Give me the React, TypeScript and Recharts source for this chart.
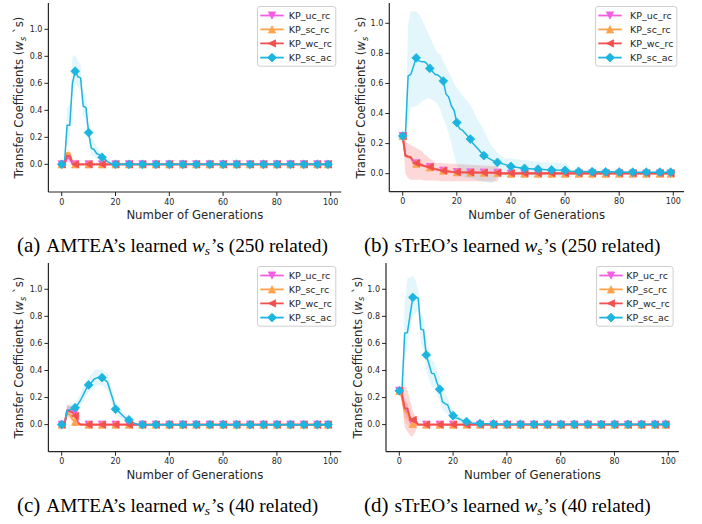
import React from 'react';
import { ComposedChart, Line, Area, XAxis, YAxis, Legend } from 'recharts';

type Pt = [number, number, number, number]; // [generation, mean, low, high]

const X_TICKS = [0, 20, 40, 60, 80, 100];
const Y_TICKS = [0, 0.2, 0.4, 0.6, 0.8, 1.0];
const SERIES_NAMES = ['KP_uc_rc', 'KP_sc_rc', 'KP_wc_rc', 'KP_sc_ac'];
const SERIES_COLORS = ['#f25fe3', '#ffa24c', '#f24f4f', '#1cb5df'];
const SERIES_SHAPES = ['down', 'up', 'left', 'diamond'];
const CAPTIONS = [
  ['(a)', 'AMTEA’s learned ', '’s (250 related)'],
  ['(b)', 'sTrEO’s learned ', '’s (250 related)'],
  ['(c)', 'AMTEA’s learned ', '’s (40 related)'],
  ['(d)', 'sTrEO’s learned ', '’s (40 related)'],
];

const ZERO_TAIL: Pt[] = [
  [30, 0, 0, 0], [35, 0, 0, 0], [40, 0, 0, 0], [45, 0, 0, 0], [50, 0, 0, 0], [55, 0, 0, 0],
  [60, 0, 0, 0], [65, 0, 0, 0], [70, 0, 0, 0], [75, 0, 0, 0], [80, 0, 0, 0], [85, 0, 0, 0],
  [90, 0, 0, 0], [95, 0, 0, 0], [99, 0, 0, 0],
];

// ---------- (a) AMTEA 250 related ----------
const A_UC: Pt[] = [[0, 0, 0, 0], [1, 0, 0, 0], [2, 0.05, 0.02, 0.09], [3, 0.04, 0.01, 0.07], [4, 0.005, 0, 0.01], [5, 0, 0, 0], [10, 0, 0, 0], [15, 0, 0, 0], [20, 0, 0, 0], [25, 0, 0, 0], ...ZERO_TAIL];
const A_SC: Pt[] = [[0, 0, 0, 0], [1, 0, 0, 0], [2, 0.085, 0.05, 0.115], [3, 0.08, 0.05, 0.105], [4, 0.015, 0, 0.03], [5, 0, 0, 0], [10, 0, 0, 0], [15, 0, 0, 0], [20, 0, 0, 0], [25, 0, 0, 0], ...ZERO_TAIL];
const A_WC: Pt[] = [[0, 0, 0, 0], [1, 0, 0, 0], [2, 0.065, 0.035, 0.09], [3, 0.06, 0.03, 0.085], [4, 0.01, 0, 0.02], [5, 0, 0, 0], [10, 0, 0, 0], [15, 0, 0, 0], [20, 0, 0, 0], [25, 0, 0, 0], ...ZERO_TAIL];
const A_AC: Pt[] = [
  [0, 0, 0, 0], [1, 0, 0, 0], [2, 0.29, 0.2, 0.42], [3, 0.29, 0.21, 0.45], [4, 0.6, 0.55, 0.8], [5, 0.69, 0.6, 0.81],
  [6, 0.65, 0.58, 0.77], [7, 0.64, 0.55, 0.74], [8, 0.43, 0.36, 0.53], [9, 0.42, 0.33, 0.5], [10, 0.235, 0.17, 0.3],
  [11, 0.12, 0.07, 0.2], [12, 0.11, 0.06, 0.17], [13, 0.08, 0.05, 0.13], [14, 0.07, 0.04, 0.1], [15, 0.052, 0.03, 0.08],
  [16, 0.04, 0.02, 0.06], [17, 0.02, 0.01, 0.04], [18, 0.01, 0, 0.02], [19, 0.003, 0, 0.006], [20, 0, 0, 0], [25, 0, 0, 0],
  ...ZERO_TAIL,
];

// ---------- (b) sTrEO 250 related ----------
const B_UC: Pt[] = [
  [0, 0.25, 0.25, 0.25], [1, 0.12, 0.12, 0.12], [2, 0.11, 0.11, 0.11], [3, 0.105, 0.105, 0.105], [4, 0.075, 0.075, 0.075],
  [5, 0.068, 0.068, 0.068], [7, 0.055, 0.055, 0.055], [10, 0.043, 0.043, 0.043], [12, 0.03, 0.03, 0.03], [15, 0.02, 0.02, 0.02],
  [18, 0.012, 0.012, 0.012], [20, 0.01, 0.01, 0.01], [25, 0.008, 0.008, 0.008], [30, 0.007, 0.007, 0.007], [35, 0.006, 0.006, 0.006],
  [37, 0, 0, 0], ...ZERO_TAIL.slice(2),
];
const B_SC: Pt[] = [
  [0, 0.25, 0.25, 0.25], [1, 0.12, 0.12, 0.12], [2, 0.11, 0.11, 0.11], [3, 0.105, 0.105, 0.105], [4, 0.075, 0.075, 0.075],
  [5, 0.066, 0.066, 0.066], [7, 0.054, 0.054, 0.054], [10, 0.042, 0.042, 0.042], [12, 0.03, 0.03, 0.03], [15, 0.02, 0.02, 0.02],
  [18, 0.011, 0.011, 0.011], [20, 0.009, 0.009, 0.009], [25, 0.007, 0.007, 0.007], [30, 0.006, 0.006, 0.006], [35, 0.005, 0.005, 0.005],
  [37, 0, 0, 0], ...ZERO_TAIL.slice(2),
];
const B_WC: Pt[] = [
  [0, 0.25, 0.25, 0.25], [1, 0.12, 0.0, 0.22], [2, 0.115, -0.03, 0.2], [3, 0.11, -0.04, 0.19], [4, 0.08, -0.04, 0.18],
  [5, 0.07, -0.04, 0.17], [7, 0.06, -0.04, 0.15], [8, 0.05, -0.045, 0.13], [10, 0.045, -0.045, 0.1], [12, 0.03, -0.045, 0.075],
  [15, 0.02, -0.05, 0.07], [18, 0.012, -0.05, 0.066], [20, 0.01, -0.05, 0.064], [25, 0.008, -0.05, 0.06], [30, 0.007, -0.052, 0.055],
  [35, 0.006, -0.052, 0.05], [36, 0.003, 0, 0.006], [40, 0.003, 0, 0.006], [45, 0.003, 0, 0.006], [50, 0.003, 0, 0.006],
  [55, 0.003, 0, 0.006], [60, 0.003, 0, 0.006], [65, 0.003, 0, 0.006], [70, 0.003, 0, 0.006], [75, 0.003, 0, 0.006],
  [80, 0.003, 0, 0.006], [85, 0.003, 0, 0.006], [90, 0.003, 0, 0.006], [95, 0.003, 0, 0.006], [99, 0.003, 0, 0.006],
];
const B_AC: Pt[] = [
  [0, 0.25, 0.25, 0.25], [1, 0.25, 0.25, 0.3], [2, 0.65, 0.35, 0.99], [3, 0.66, 0.44, 1.08], [5, 0.77, 0.45, 1.08],
  [6, 0.75, 0.46, 1.06], [7, 0.745, 0.48, 1.03], [8, 0.745, 0.49, 0.99], [9, 0.73, 0.5, 0.95], [10, 0.7, 0.5, 0.91],
  [12, 0.66, 0.48, 0.83], [13, 0.656, 0.46, 0.8], [14, 0.64, 0.42, 0.79], [15, 0.616, 0.37, 0.75], [16, 0.53, 0.32, 0.71],
  [17, 0.51, 0.27, 0.68], [18, 0.45, 0.2, 0.64], [19, 0.42, 0.12, 0.6], [20, 0.34, 0.06, 0.57], [21, 0.3, 0.0, 0.55],
  [22, 0.29, -0.02, 0.52], [23, 0.27, -0.03, 0.5], [25, 0.23, -0.03, 0.46], [26, 0.2, -0.035, 0.42], [27, 0.18, -0.04, 0.38],
  [28, 0.16, -0.045, 0.35], [29, 0.14, -0.05, 0.32], [30, 0.12, -0.05, 0.29], [31, 0.11, -0.055, 0.25], [32, 0.1, -0.06, 0.21],
  [33, 0.09, -0.06, 0.18], [34, 0.08, -0.05, 0.16], [35, 0.075, -0.02, 0.14], [36, 0.07, -0.02, 0.12], [38, 0.06, -0.02, 0.1],
  [40, 0.048, -0.02, 0.1], [45, 0.035, -0.025, 0.09], [50, 0.03, -0.025, 0.08], [55, 0.025, -0.025, 0.075], [60, 0.022, -0.025, 0.07],
  [61, 0.02, -0.02, 0.065], [62, 0.016, 0.006, 0.026], [65, 0.015, 0.006, 0.024], [70, 0.013, 0.005, 0.021], [75, 0.012, 0.005, 0.02],
  [80, 0.011, 0.004, 0.018], [85, 0.01, 0.004, 0.016], [90, 0.01, 0.004, 0.016], [95, 0.01, 0.004, 0.016], [99, 0.01, 0.004, 0.016],
];

// ---------- (c) AMTEA 40 related ----------
const C_UC: Pt[] = [[0, 0, 0, 0], [1, 0, 0, 0], [2, 0.1, 0.06, 0.15], [3, 0.1, 0.06, 0.14], [4, 0.098, 0.06, 0.14], [5, 0.095, 0.06, 0.13], [6, 0.02, 0, 0.04], [7, 0, 0, 0], [10, 0, 0, 0], [15, 0, 0, 0], [20, 0, 0, 0], [25, 0, 0, 0], ...ZERO_TAIL];
const C_SC: Pt[] = [[0, 0, 0, 0], [1, 0, 0, 0], [2, 0.085, 0.05, 0.12], [3, 0.075, 0.04, 0.1], [4, 0.04, 0.02, 0.07], [5, 0.02, 0, 0.04], [6, 0.005, 0, 0.01], [7, 0, 0, 0], [10, 0, 0, 0], [15, 0, 0, 0], [20, 0, 0, 0], [25, 0, 0, 0], ...ZERO_TAIL];
const C_WC: Pt[] = [[0, 0, 0, 0], [1, 0, 0, 0], [2, 0.105, 0.07, 0.14], [3, 0.1, 0.07, 0.135], [4, 0.09, 0.05, 0.13], [5, 0.065, 0.03, 0.1], [6, 0.01, 0, 0.03], [7, 0, 0, 0], [10, 0, 0, 0], [15, 0, 0, 0], [20, 0, 0, 0], [25, 0, 0, 0], ...ZERO_TAIL];
const C_AC: Pt[] = [
  [0, 0, 0, 0], [1, 0, 0, 0], [2, 0.105, 0.07, 0.14], [3, 0.11, 0.07, 0.15], [4, 0.115, 0.08, 0.155], [5, 0.125, 0.09, 0.16],
  [6, 0.15, 0.11, 0.19], [7, 0.18, 0.14, 0.23], [8, 0.22, 0.17, 0.28], [9, 0.26, 0.21, 0.32], [10, 0.293, 0.24, 0.35],
  [11, 0.31, 0.26, 0.37], [12, 0.335, 0.28, 0.4], [13, 0.345, 0.29, 0.41], [14, 0.35, 0.29, 0.41], [15, 0.347, 0.29, 0.405],
  [16, 0.33, 0.27, 0.39], [17, 0.315, 0.255, 0.375], [18, 0.25, 0.19, 0.31], [19, 0.19, 0.13, 0.25], [20, 0.114, 0.07, 0.16],
  [21, 0.1, 0.06, 0.14], [22, 0.08, 0.045, 0.115], [23, 0.06, 0.03, 0.09], [24, 0.045, 0.02, 0.07], [25, 0.035, 0.012, 0.06],
  [26, 0.02, 0.005, 0.035], [27, 0.01, 0, 0.02], [28, 0.003, 0, 0.006], ...ZERO_TAIL,
];

// ---------- (d) sTrEO 40 related ----------
const D_UC: Pt[] = [[0, 0.25, 0.25, 0.25], [1, 0.22, 0.18, 0.26], [2, 0.11, 0.05, 0.17], [3, 0.1, 0.04, 0.16], [4, 0.04, 0.0, 0.08], [5, 0.01, 0, 0.03], [6, 0, 0, 0], [10, 0, 0, 0], [15, 0, 0, 0], [20, 0, 0, 0], [25, 0, 0, 0], ...ZERO_TAIL];
const D_SC: Pt[] = [[0, 0.25, 0.25, 0.25], [1, 0.2, 0.15, 0.25], [2, 0.1, 0.02, 0.18], [3, 0.08, 0.0, 0.16], [4, 0.03, -0.02, 0.08], [5, 0.005, -0.01, 0.02], [6, 0, 0, 0], [10, 0, 0, 0], [15, 0, 0, 0], [20, 0, 0, 0], [25, 0, 0, 0], ...ZERO_TAIL];
const D_WC: Pt[] = [[0, 0.25, 0.25, 0.25], [1, 0.22, 0.18, 0.25], [2, 0.12, -0.02, 0.29], [3, 0.12, -0.05, 0.26], [4, 0.047, -0.08, 0.18], [5, 0.035, -0.09, 0.1], [6, 0.03, -0.05, 0.06], [7, 0, 0, 0], [10, 0, 0, 0], [15, 0, 0, 0], [20, 0, 0, 0], [25, 0, 0, 0], ...ZERO_TAIL];
const D_AC: Pt[] = [
  [0, 0.25, 0.25, 0.25], [1, 0.25, 0.25, 0.3], [2, 0.675, 0.45, 0.9], [3, 0.68, 0.6, 1.08], [5, 0.94, 0.8, 1.1],
  [6, 0.94, 0.82, 1.07], [7, 0.935, 0.85, 1.0], [8, 0.705, 0.6, 0.82], [9, 0.7, 0.56, 0.78], [10, 0.515, 0.4, 0.63],
  [11, 0.45, 0.34, 0.56], [12, 0.38, 0.28, 0.48], [13, 0.375, 0.27, 0.46], [14, 0.31, 0.22, 0.4], [15, 0.261, 0.18, 0.35],
  [16, 0.17, 0.11, 0.26], [17, 0.155, 0.09, 0.23], [18, 0.145, 0.08, 0.2], [19, 0.09, 0.04, 0.14], [20, 0.066, 0.03, 0.1],
  [21, 0.05, 0.02, 0.08], [22, 0.045, 0.015, 0.07], [23, 0.035, 0.01, 0.055], [25, 0.022, 0.005, 0.04], [27, 0.012, 0.002, 0.025],
  [30, 0.008, 0.002, 0.015], [35, 0.005, 0.001, 0.01], [40, 0.003, 0, 0.006], [45, 0.002, 0, 0.005], [50, 0.002, 0, 0.005],
  [55, 0.002, 0, 0.005], [60, 0.002, 0, 0.005], [65, 0.002, 0, 0.005], [70, 0.002, 0, 0.005], [75, 0.002, 0, 0.005],
  [80, 0.002, 0, 0.005], [85, 0.002, 0, 0.005], [90, 0.002, 0, 0.005], [95, 0.002, 0, 0.005], [99, 0.002, 0, 0.005],
];

const BAND_OPACITY = [0.2, 0.2, 0.22, 0.12];
const TEXT = '#262626';
const SANS = 'DejaVu Sans, sans-serif';
const SERIF = 'Liberation Serif, Times New Roman, serif';

function markerShape(shape: string, cx: number, cy: number, color: string, key?: string) {
  const s = 3.6;
  const d = 4.4;
  let pts = '';
  if (shape === 'diamond') pts = `${cx},${cy - d} ${cx + d},${cy} ${cx},${cy + d} ${cx - d},${cy}`;
  else if (shape === 'down') pts = `${cx - s},${cy - s} ${cx + s},${cy - s} ${cx},${cy + s}`;
  else if (shape === 'up') pts = `${cx},${cy - s} ${cx + s},${cy + s} ${cx - s},${cy + s}`;
  else pts = `${cx - s},${cy} ${cx + s},${cy - s} ${cx + s},${cy + s}`;
  return <polygon key={key} points={pts} fill={color} stroke={color} strokeWidth={0.8} strokeLinejoin="miter" />;
}

function makeDot(shape: string, color: string) {
  return (props: any) => {
    const { cx, cy, payload, index } = props;
    const g = payload ? payload.g : -1;
    if (cx == null || cy == null || !(g % 5 === 0 || g === 99)) return <g key={`e${index}`} />;
    return markerShape(shape, cx, cy, color, `m${index}`);
  };
}

function LegendBox({ w, h, textX }: { w: number; h: number; textX: number }) {
  const rows = [9.5, 23.4, 37.4, 51.6];
  return (
    <svg width={w} height={h} style={{ display: 'block', overflow: 'visible' }}>
      <rect x={0.5} y={0.5} width={w - 1} height={h - 1} rx={2.5} fill="#ffffff" fillOpacity={0.85} stroke="#cfcfcf" strokeWidth={1} />
      {SERIES_NAMES.map((name, i) => (
        <g key={name}>
          <line x1={3.3} x2={26.7} y1={rows[i]} y2={rows[i]} stroke={SERIES_COLORS[i]} strokeWidth={1.8} />
          {markerShape(SERIES_SHAPES[i], 15, rows[i], SERIES_COLORS[i])}
          <text x={textX} y={rows[i]} dy="0.36em" fontSize={9.5} fontFamily={SANS} fill={TEXT}>{name}</text>
        </g>
      ))}
    </svg>
  );
}

type PanelCfg = {
  left: number; top: number; width: number; height: number;
  plotLeft: number; plotTop: number; plotW: number; plotH: number;
  yDomain: [number, number];
  series: Pt[][];
  legend: { x: number; y: number; w: number; h: number; textX: number };
};

function Panel({ cfg }: { cfg: PanelCfg }) {
  const { left, top, width, height, plotLeft, plotTop, plotW, plotH, yDomain, series, legend } = cfg;
  const yAxisW = plotLeft - left;
  const xAxisH = 30;
  const margin = {
    top: plotTop - top,
    left: 0,
    right: width - yAxisW - plotW,
    bottom: height - (plotTop - top) - plotH - xAxisH,
  };
  const rowsList = series.map((pts) => pts.map(([g, m, lo, hi]) => ({ g, m, range: [lo, hi] })));
  return (
    <div style={{ position: 'absolute', left, top, width, height }}>
      <ComposedChart width={width} height={height} margin={margin}>
        <XAxis
          type="number" dataKey="g" domain={[-4.95, 103.95]} ticks={X_TICKS} allowDataOverflow height={xAxisH}
          tickSize={4} tickMargin={3} interval={0}
          axisLine={{ stroke: TEXT, strokeWidth: 1.2 }} tickLine={{ stroke: TEXT, strokeWidth: 1 }}
          tick={{ fontSize: 8, fill: TEXT, fontFamily: SANS }}
        />
        <YAxis
          type="number" domain={yDomain} ticks={Y_TICKS} allowDataOverflow width={yAxisW}
          tickSize={4} tickMargin={2} interval={0} tickFormatter={(v: number) => v.toFixed(1)}
          axisLine={{ stroke: TEXT, strokeWidth: 1.2 }} tickLine={{ stroke: TEXT, strokeWidth: 1 }}
          tick={{ fontSize: 8, fill: TEXT, fontFamily: SANS }}
        />
        {rowsList.map((rows, i) => (
          <Area
            key={`band${i}`} data={rows} dataKey="range" type="linear" stroke="none"
            fill={SERIES_COLORS[i]} fillOpacity={BAND_OPACITY[i]} isAnimationActive={false}
            dot={false} activeDot={false} legendType="none"
          />
        ))}
        {rowsList.map((rows, i) => (
          <Line
            key={`line${i}`} data={rows} dataKey="m" type="linear" name={SERIES_NAMES[i]}
            stroke={SERIES_COLORS[i]} strokeWidth={i === 3 ? 1.5 : 1.9} strokeLinejoin="round"
            dot={makeDot(SERIES_SHAPES[i], SERIES_COLORS[i])} activeDot={false} isAnimationActive={false}
          />
        ))}
        <Legend
          layout="horizontal" verticalAlign="middle" align="center"
          wrapperStyle={{ position: 'absolute', left: legend.x - left, top: legend.y - top, width: legend.w, height: legend.h }}
          content={() => <LegendBox w={legend.w} h={legend.h} textX={legend.textX} />}
        />
      </ComposedChart>
    </div>
  );
}

const PANELS: PanelCfg[] = [
  { left: 0, top: 0, width: 350, height: 230, plotLeft: 48.4, plotTop: 3, plotW: 292.9, plotH: 189, yDomain: [-0.205, 1.195],
    series: [A_UC, A_SC, A_WC, A_AC], legend: { x: 256.7, y: 6, w: 79.3, h: 60.7, textX: 31.7 } },
  { left: 350, top: 0, width: 352, height: 230, plotLeft: 389.3, plotTop: 3, plotW: 294.7, plotH: 188.7, yDomain: [-0.12, 1.135],
    series: [B_UC, B_SC, B_WC, B_AC], legend: { x: 595, y: 6, w: 82.3, h: 60.7, textX: 35 } },
  { left: 0, top: 260, width: 350, height: 230, plotLeft: 48.4, plotTop: 263, plotW: 292.9, plotH: 188.7, yDomain: [-0.2, 1.194],
    series: [C_UC, C_SC, C_WC, C_AC], legend: { x: 256.7, y: 266, w: 79.3, h: 60.7, textX: 31.7 } },
  { left: 350, top: 260, width: 352, height: 230, plotLeft: 386, plotTop: 263, plotW: 292.9, plotH: 188.7, yDomain: [-0.2, 1.194],
    series: [D_UC, D_SC, D_WC, D_AC], legend: { x: 595.7, y: 266, w: 77.6, h: 60.7, textX: 30.3 } },
];

const YLABEL_POS = [[23.3, 97.5], [365, 97.5], [23.3, 357.5], [361.7, 357.5]];
const XLABEL_Y = [219, 219, 479, 479];
const CAPTION_POS = [[17, 252], [364, 252], [17, 512], [364, 512]];

export default function App() {
  return (
    <div style={{ position: 'absolute', left: 0, top: 0, width: 702, height: 524, background: '#fff', overflow: 'hidden' }}>
      {PANELS.map((p, i) => <Panel key={i} cfg={p} />)}
      <svg width={702} height={524} style={{ position: 'absolute', left: 0, top: 0, pointerEvents: 'none' }}>
        {PANELS.map((p, i) => {
          const [yx, yy] = YLABEL_POS[i];
          const [cx, cy] = CAPTION_POS[i];
          const cap = CAPTIONS[i];
          return (
            <g key={i}>
              <text x={p.plotLeft + p.plotW / 2} y={XLABEL_Y[i]} textAnchor="middle" fontSize={11.7} fontFamily={SANS} fill={TEXT}>
                Number of Generations
              </text>
              <text transform={`rotate(-90 ${yx} ${yy})`} x={yx} y={yy} textAnchor="middle" fontSize={11.7} fontFamily={SANS} fill={TEXT}>
                Transfer Coefficients (<tspan fontStyle="italic">w</tspan><tspan fontStyle="italic" fontSize={8.2} dy={2.5}>s</tspan><tspan dy={-2.5}> `s)</tspan>
              </text>
              <text x={cx} y={cy} fontSize={19.3} fontFamily={SERIF} fill="#000">
                <tspan fontSize={21}>{cap[0]}</tspan><tspan dx={6}>{cap[1]}</tspan><tspan fontStyle="italic">w</tspan><tspan fontStyle="italic" fontSize={13.5} dy={3}>s</tspan><tspan dx={1} dy={-3}>{cap[2]}</tspan>
              </text>
            </g>
          );
        })}
      </svg>
    </div>
  );
}
